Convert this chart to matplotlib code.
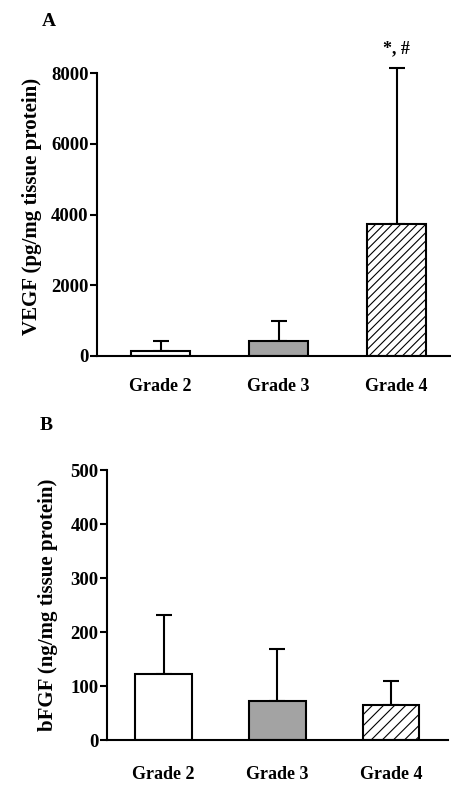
import numpy as np
import matplotlib.pyplot as plt

plt.rcParams['font.family'] = ['Liberation Serif', 'DejaVu Serif']
plt.rcParams['font.weight'] = 'bold'
plt.rcParams['hatch.linewidth'] = 0.8

# Data
grades = ["Grade 2", "Grade 3", "Grade 4"]
vegf_mean = [150, 430, 3730]
vegf_sd = [270, 560, 4410]
bfgf_mean = [123, 72, 64]
bfgf_sd = [108, 96, 45]

fills = ["white", "#a3a3a3", "white"]


def draw_panel(ax, means, sds, ymax, yticks, ylabel, hatch, xpad):
    x = np.arange(1, len(grades) + 1)
    hatches = ["", "", hatch]
    for i in range(len(grades)):
        ax.bar(x[i], means[i], width=0.5, color=fills[i], edgecolor="black",
               linewidth=1.5, hatch=hatches[i], zorder=2)
        eb = ax.errorbar(x[i], means[i], yerr=[[0], [sds[i]]], fmt="none",
                         ecolor="black", elinewidth=1.5, capsize=6, capthick=1.5,
                         zorder=1)
        for art in eb.lines[1] + eb.lines[2]:
            art.set_clip_on(False)
    ax.set_xlim(0.5, 3.5)
    ax.set_ylim(0, ymax)
    ax.set_yticks(yticks)
    ax.set_yticklabels([str(t) for t in yticks], fontsize=13.5, fontweight="bold")
    ax.set_xticks(x)
    ax.set_xticklabels(grades, fontsize=13, fontweight="bold")
    ax.tick_params(axis="x", length=0, pad=xpad)
    ax.tick_params(axis="y", length=5, width=1.5, pad=1)
    for s in ["top", "right"]:
        ax.spines[s].set_visible(False)
    for s in ["left", "bottom"]:
        ax.spines[s].set_linewidth(1.5)
    ax.set_ylabel(ylabel, fontsize=15, fontweight="bold", labelpad=9)


fig = plt.figure(figsize=(4.51, 7.85), dpi=100)
axA = fig.add_axes([0.215, 0.5465, 0.785, 0.3605])
axB = fig.add_axes([0.237, 0.0573, 0.756, 0.3437])

draw_panel(axA, vegf_mean, vegf_sd, 8000, [0, 2000, 4000, 6000, 8000],
           "VEGF (pg/mg tissue protein)", "////", 16)
axA.set_xlim(0.46, 3.46)
axA.yaxis.set_label_coords(-0.155, 0.53)
axA.text(3, 8700, "*, #", ha="center", va="center", fontsize=13, fontweight="bold")

draw_panel(axB, bfgf_mean, bfgf_sd, 500, [0, 100, 200, 300, 400, 500],
           "bFGF (ng/mg tissue protein)", "///", 19)

fig.text(42 / 451, 1 - 21 / 785, "A", fontsize=14, fontweight="bold", va="center")
fig.text(40 / 451, 1 - 425 / 785, "B", fontsize=14, fontweight="bold", va="center")

fig.savefig("out.png", dpi=100)
